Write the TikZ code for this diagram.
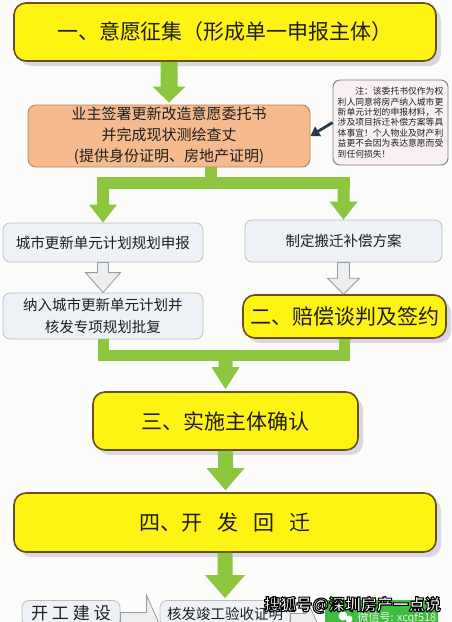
\documentclass[tikz,border=0pt]{standalone}
\usepackage{fontspec}
\setmainfont{Noto Sans CJK SC}
\usetikzlibrary{calc,shadows,arrows.meta}
\definecolor{bgc}{RGB}{252,253,250}
\definecolor{ylw}{RGB}{255,243,20}
\definecolor{ybd}{RGB}{105,78,30}
\definecolor{grn}{RGB}{141,198,63}
\definecolor{org}{RGB}{245,187,142}
\definecolor{obd}{RGB}{185,130,92}
\definecolor{gbx}{RGB}{238,241,245}
\definecolor{gbd}{RGB}{185,190,198}
\definecolor{nfill}{RGB}{248,240,245}
\definecolor{nbd}{RGB}{125,125,125}
\definecolor{narr}{RGB}{40,55,75}
\definecolor{harr}{RGB}{236,238,240}
\definecolor{hbd}{RGB}{150,155,160}
\definecolor{wgreen}{RGB}{62,190,62}
\definecolor{txt}{RGB}{30,30,30}
\newcommand{\blockv}[6]{\path[#1] let \p1=#2, \p2=#3 in ({\x1-#4},\y1) -- ({\x1+#4},\y1) -- ({\x1+#4},{\y2+#6}) -- ({\x1+#5},{\y2+#6}) -- (\x1,\y2) -- ({\x1-#5},{\y2+#6}) -- ({\x1-#4},{\y2+#6}) -- cycle;}
\newcommand{\blockh}[6]{\path[#1] let \p1=#2, \p2=#3 in (\x1,{\y1+#4}) -- ({\x2-#6},{\y1+#4}) -- ({\x2-#6},{\y1+#5}) -- (\x2,\y1) -- ({\x2-#6},{\y1-#5}) -- ({\x2-#6},{\y1-#4}) -- (\x1,{\y1-#4}) -- cycle;}
\newcommand{\outlinetext}[1]{\special{pdf:literal direct 2 Tr 0 0 0 RG 1.1 w}#1\special{pdf:literal direct 0 Tr}}
\tikzset{
  ybox/.style={draw=ybd, line width=1.6pt, fill=ylw, rounded corners=12pt, inner sep=0pt, text=txt,
    font=\fontsize{21}{24}\selectfont,
    drop shadow={shadow xshift=5pt, shadow yshift=-5pt, fill=blue!20!gray!40, opacity=0.6}},
  gbox/.style={draw=gbd, line width=0.8pt, fill=gbx, rounded corners=7pt, inner sep=0pt, text=txt,
    font=\fontsize{14.5}{22}\selectfont, align=center},
  obox/.style={draw=obd, line width=0.9pt, fill=org, rounded corners=8pt, inner sep=0pt, text=txt,
    font=\fontsize{15}{21}\selectfont, align=center},
  nbox/.style={draw=nbd, line width=0.9pt, fill=nfill, rounded corners=7pt, inner sep=0pt, text=txt,
    font=\fontsize{8.8}{10.4}\selectfont, align=left},
  gline/.style={draw=grn, line width=12pt},
  garrow/.style={fill=grn},
  harrow/.style={fill=harr, draw=hbd, line width=0.8pt, line join=miter},
  wm/.style={font=\fontsize{16}{18}\selectfont\bfseries, inner sep=0pt}
}
\begin{document}
\begin{tikzpicture}[x=1pt,y=-1pt]
\useasboundingbox (0,0) rectangle (452,622);
\clip (0,0) rectangle (452,622);
\fill[bgc] (0,0) rectangle (452,622);

% boxes
\node[ybox, minimum width=422pt, minimum height=58pt] (t) at (225,32) {一、意愿征集（形成单一申报主体）};
\node[obox, minimum width=282pt, minimum height=62pt] (o) at (169,136) {业主签署更新改造意愿委托书\\并完成现状测绘查丈\\(提供身份证明、房地产证明)};
\node[nbox, minimum width=115pt, minimum height=85pt] (n) at (390.5,122.5) {\hspace*{17.6pt}注：该委托书仅作为权\\利人同意将房产纳入城市更\\新单元计划的申报材料，不\\涉及项目拆迁补偿方案等具\\体事宜！个人物业及财产利\\益更不会因为表达意愿而受\\到任何损失！};
\node[gbox, minimum width=200pt, minimum height=39pt] (l1) at (103,242.5) {城市更新单元计划规划申报};
\node[gbox, minimum width=197pt, minimum height=42pt] (r1) at (343.5,241) {制定搬迁补偿方案};
\node[gbox, minimum width=200pt, minimum height=46pt] (l2) at (103,316) {纳入城市更新单元计划并\\核发专项规划批复};
\node[ybox, minimum width=203pt, minimum height=43pt, drop shadow={shadow xshift=3pt, shadow yshift=-3pt, fill=blue!20!gray!30, opacity=0.5}] (r2) at (344.5,316.5) {二、赔偿谈判及签约};
\node[ybox, minimum width=265pt, minimum height=58pt] (b3) at (225.5,421) {三、实施主体确认};
\node[ybox, minimum width=422pt, minimum height=59pt] (b4) at (225,522.5) {四、开\hspace{15pt}发\hspace{15pt}回\hspace{15pt}迁};
\node[gbox, minimum width=98pt, minimum height=26pt, font=\fontsize{17}{19}\selectfont] (b1) at (71,613.5) {开\hspace{4pt}工\hspace{4pt}建\hspace{4pt}设};
\node[gbox, minimum width=130pt, minimum height=26pt] (b2) at (225,613.5) {核发竣工验收证明};
\coordinate (ae) at (318,624);

% green arrows
\blockv{garrow}{(t.south -| o.north)}{($(o.north)+(0,-2)$)}{8.5pt}{16.5pt}{16pt}
\coordinate (fk) at (211,183);
\draw[gline] (o.south -| fk) -- (fk);
\draw[gline, line cap=rect] (fk -| l1.north) -- (fk -| r1.north);
\blockv{garrow}{(fk -| l1.north)}{(l1.north)}{6pt}{14pt}{18pt}
\blockv{garrow}{(fk -| r1.north)}{(r1.north)}{6pt}{14pt}{18pt}
\coordinate (bk) at (225.5,355);
\draw[gline, line width=11pt, line join=miter] (l2.south) -- (l2.south |- bk) -- (r2.south |- bk) -- (r2.south);
\blockv{garrow}{(bk -| b3.north)}{($(b3.north)+(0,-2)$)}{7pt}{14pt}{22pt}
\blockv{garrow}{(b3.south)}{($(b3.north |- b4.north)+(0,-2)$)}{7.5pt}{19pt}{22pt}
\blockv{garrow}{(b4.south)}{($(b4.south |- b2.north)+(0,-2)$)}{7.5pt}{20pt}{23pt}

% grey hollow arrows
\blockv{harrow}{(l1.south)}{(l2.north)}{5.5pt}{17.5pt}{20pt}
\blockv{harrow}{(r1.south)}{(r2.north)}{6pt}{16pt}{16pt}
\blockh{harrow}{($(b1.east)+(0,11)$)}{($(b2.west)+(0,11)$)}{12pt}{29pt}{13pt}
\blockh{harrow}{($(b2.east)+(0,11)$)}{(ae)}{11pt}{26pt}{12pt}

% note arrow
\draw[narr, line width=2.8pt, -{Triangle[length=9pt,width=11pt]}] (n.west) -- (o.east);

% watermark
\fill[wgreen, rounded corners=3pt] (325,600) rectangle (438,630);
\fill[white] (343,616) circle (4.5pt);
\fill[white] (349,619) circle (3.5pt);
\node[font=\fontsize{11}{12}\selectfont, text=gray!15, inner sep=0pt] (wx) at (397,618) {微信号: xcqf518};
\node[wm, text=white] (wm) at (352.5,605) {\outlinetext{搜狐号@深圳房产一点说}};
\end{tikzpicture}
\end{document}
